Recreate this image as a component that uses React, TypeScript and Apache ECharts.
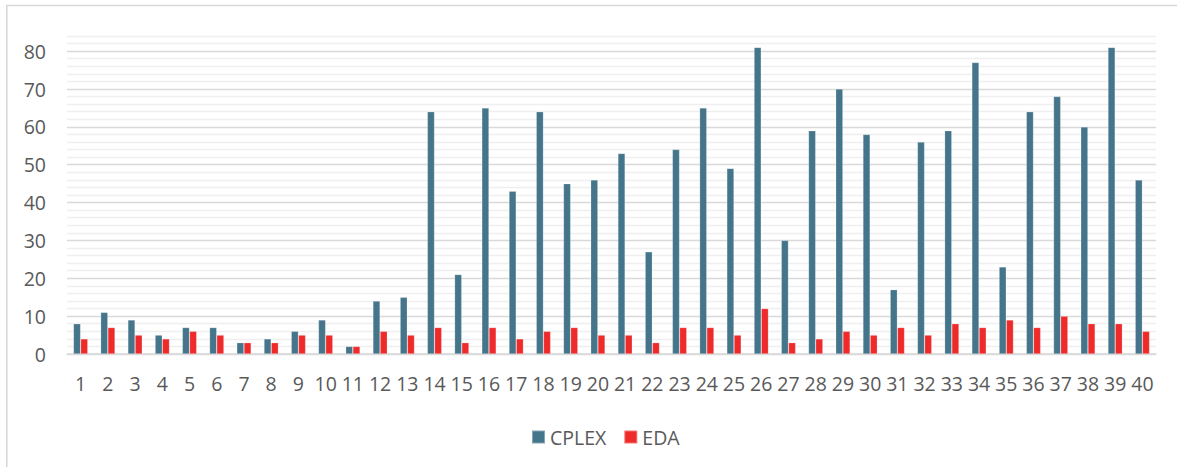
import React, { useEffect, useRef } from "react";
import * as echarts from "echarts";

const categories = Array.from({ length: 40 }, (_, i) => String(i + 1));
const cplexValues = [8, 11, 9, 5, 7, 7, 3, 4, 6, 9, 2, 14, 15, 64, 21, 65, 43, 64, 45, 46, 53, 27, 54, 65, 49, 81, 30, 59, 70, 58, 17, 56, 59, 77, 23, 64, 68, 60, 81, 46];
const edaValues = [4, 7, 5, 4, 6, 5, 3, 3, 5, 5, 2, 6, 5, 7, 3, 7, 4, 6, 7, 5, 5, 3, 7, 7, 5, 12, 3, 4, 6, 5, 7, 5, 8, 7, 9, 7, 10, 8, 8, 6];
const seriesNames = ["CPLEX", "EDA"];

const FONT = "'Open Sans', 'Liberation Sans', sans-serif";
const FS = 19.5;

export default function App() {
  const ref = useRef<HTMLDivElement>(null);
  useEffect(() => {
    if (!ref.current) return;
    const chart = echarts.init(ref.current, undefined, { renderer: "svg" });
    chart.setOption({
      animation: false,
      backgroundColor: "#ffffff",
      textStyle: { fontFamily: FONT },
      graphic: [
        {
          type: "rect",
          shape: { x: 6.8, y: 5.5, width: 1300, height: 600 },
          style: { fill: "none", stroke: "#d9d9d9", lineWidth: 1.6 },
          silent: true,
          z: -1,
        },
      ],
      legend: {
        data: seriesNames,
        left: 526,
        top: 422,
        itemWidth: 13,
        itemHeight: 13,
        itemGap: 17,
        icon: "rect",
        textStyle: { fontSize: FS, color: "#595959", fontFamily: FONT },
      },
      grid: { left: 67, right: 21, top: 36, bottom: 113, containLabel: false },
      xAxis: {
        type: "category",
        data: categories,
        axisTick: { show: false },
        axisLine: { lineStyle: { color: "#d9d9d9", width: 1.5 } },
        axisLabel: { interval: 0, margin: 19, fontSize: FS, color: "#595959", fontFamily: FONT },
      },
      yAxis: {
        type: "value",
        min: 0,
        max: 84,
        interval: 2,
        axisLine: { show: false },
        axisTick: { show: false },
        axisLabel: {
          margin: 21,
          fontSize: FS,
          color: "#595959",
          fontFamily: FONT,
          formatter: (v: number) => (v % 10 === 0 ? String(v) : ""),
        },
        splitLine: {
          lineStyle: {
            color: ["#d9d9d9", "#efefef", "#efefef", "#efefef", "#efefef"],
            width: 1.3,
          },
        },
      },
      series: [
        {
          name: seriesNames[0],
          type: "bar",
          data: cplexValues,
          barWidth: 7.2,
          barGap: "0%",
          itemStyle: { color: "#44758a", borderColor: "rgba(255,255,255,0.35)", borderWidth: 0.6 },
        },
        {
          name: seriesNames[1],
          type: "bar",
          data: edaValues,
          barWidth: 7.2,
          barGap: "0%",
          itemStyle: { color: "#ee2a2a", borderColor: "rgba(255,255,255,0.35)", borderWidth: 0.6 },
        },
      ],
    });
    return () => chart.dispose();
  }, []);
  return (
    <div
      ref={ref}
      style={{ position: "fixed", left: 0, top: 0, width: 1177, height: 467 }}
    />
  );
}
